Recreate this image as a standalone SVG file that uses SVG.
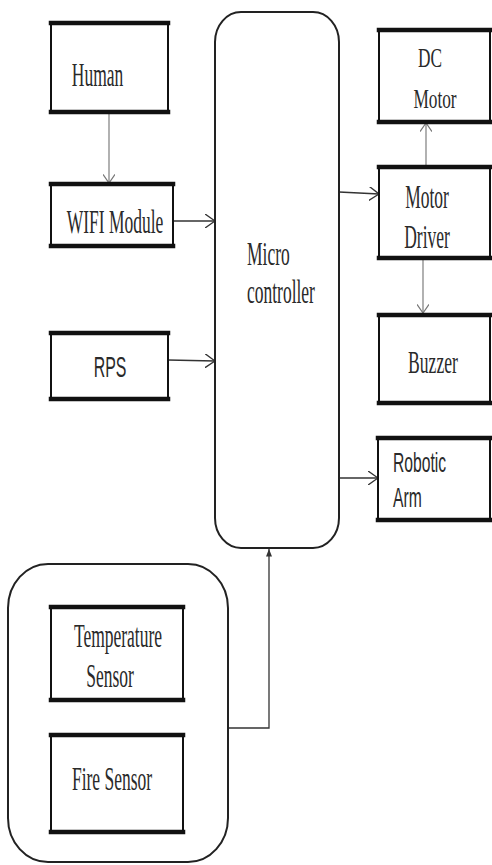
<svg xmlns="http://www.w3.org/2000/svg" width="492" height="865" viewBox="0 0 492 865">
<style>
  .box{fill:#fff;stroke:#111;stroke-width:2}
  .edge{stroke:#111;stroke-width:4.5;stroke-linecap:square}
  .rbox{fill:#fff;stroke:#222;stroke-width:2}
  .t{font-family:"Liberation Serif","Times New Roman",serif;font-size:33px;fill:#2a2a2a}
  .s{font-family:"Liberation Sans",Arial,sans-serif;font-size:30px;fill:#2a2a2a}
  .c{fill:none;stroke:#333;stroke-width:1.3}
  .g{fill:none;stroke:#888;stroke-width:1.3}
</style>
<defs>
  <marker id="arr" viewBox="0 0 10 14" refX="10" refY="7" markerWidth="10" markerHeight="14" markerUnits="userSpaceOnUse" orient="auto">
    <path d="M0,0 L10,7 L0,14" fill="none" stroke="#333" stroke-width="1.4"/>
  </marker>
  <marker id="arrg" viewBox="0 0 10 14" refX="10" refY="7" markerWidth="9" markerHeight="12" markerUnits="userSpaceOnUse" orient="auto">
    <path d="M0,0 L10,7 L0,14" fill="none" stroke="#777" stroke-width="1.4"/>
  </marker>
  <marker id="tri" viewBox="0 0 10 8" refX="10" refY="4" markerWidth="8" markerHeight="6" markerUnits="userSpaceOnUse" orient="auto">
    <path d="M0,0 L10,4 L0,8 Z" fill="#333"/>
  </marker>
</defs>

<g id="connectors">
  <line class="g" x1="109" y1="113" x2="109" y2="183" marker-end="url(#arrg)"/>
  <line class="c" x1="173" y1="221" x2="215" y2="221" marker-end="url(#arr)"/>
  <line class="c" x1="168" y1="360" x2="215" y2="361" marker-end="url(#arr)"/>
  <line class="c" x1="339" y1="192" x2="379" y2="194" marker-end="url(#arr)"/>
  <line class="g" x1="426" y1="166" x2="426" y2="123" marker-end="url(#arrg)"/>
  <line class="g" x1="423" y1="259" x2="423" y2="313" marker-end="url(#arrg)"/>
  <line class="c" x1="339" y1="478" x2="378" y2="478" marker-end="url(#arr)"/>
  <path class="c" d="M228,728 H269 V549" marker-end="url(#tri)"/>
</g>

<g id="microcontroller">
  <rect class="rbox" x="215" y="12" width="124" height="536" rx="26" ry="30"/>
  <text class="t" transform="translate(247,265) scale(0.53,1)">Micro</text>
  <text class="t" transform="translate(247,303) scale(0.53,1)">controller</text>
</g>

<g id="human">
  <rect class="box" x="51" y="23" width="117" height="89"/>
  <line class="edge" x1="51" y1="23" x2="168" y2="23"/>
  <line class="edge" x1="51" y1="112" x2="168" y2="112"/>
  <text class="t" text-anchor="middle" transform="translate(97.5,86) scale(0.53,1)">Human</text>
</g>

<g id="wifi">
  <rect class="box" x="51" y="184" width="122" height="62"/>
  <line class="edge" x1="51" y1="184" x2="173" y2="184"/>
  <line class="edge" x1="51" y1="246" x2="173" y2="246"/>
  <text class="t" text-anchor="middle" transform="translate(115,233) scale(0.53,1)">WIFI Module</text>
</g>

<g id="rps">
  <rect class="box" x="51" y="333" width="117" height="66"/>
  <line class="edge" x1="51" y1="333" x2="168" y2="333"/>
  <line class="edge" x1="51" y1="399" x2="168" y2="399"/>
  <text class="s" text-anchor="middle" transform="translate(110,377) scale(0.53,1)">RPS</text>
</g>

<g id="dc-motor">
  <rect class="box" x="379" y="30" width="111" height="92"/>
  <line class="edge" x1="379" y1="30" x2="490" y2="30"/>
  <line class="edge" x1="379" y1="122" x2="490" y2="122"/>
  <text class="t" text-anchor="middle" style="font-size:27px" transform="translate(430,67) scale(0.64,1)">DC</text>
  <text class="t" text-anchor="middle" style="font-size:27px" transform="translate(435,108) scale(0.64,1)">Motor</text>
</g>

<g id="motor-driver">
  <rect class="box" x="379" y="167" width="111" height="91"/>
  <line class="edge" x1="379" y1="167" x2="490" y2="167"/>
  <line class="edge" x1="379" y1="258" x2="490" y2="258"/>
  <text class="t" text-anchor="middle" transform="translate(427,208) scale(0.53,1)">Motor</text>
  <text class="t" text-anchor="middle" transform="translate(427,248) scale(0.53,1)">Driver</text>
</g>

<g id="buzzer">
  <rect class="box" x="379" y="315" width="111" height="88"/>
  <line class="edge" x1="379" y1="315" x2="490" y2="315"/>
  <line class="edge" x1="379" y1="403" x2="490" y2="403"/>
  <text class="t" text-anchor="middle" style="font-size:32px" transform="translate(433,373) scale(0.55,1)">Buzzer</text>
</g>

<g id="robotic-arm">
  <rect class="box" x="378" y="438" width="112" height="82"/>
  <line class="edge" x1="378" y1="438" x2="490" y2="438"/>
  <line class="edge" x1="378" y1="520" x2="490" y2="520"/>
  <text class="s" style="font-size:28px" transform="translate(393,472) scale(0.56,1)">Robotic</text>
  <text class="s" style="font-size:28px" transform="translate(393,507) scale(0.56,1)">Arm</text>
</g>

<g id="sensor-group">
  <rect class="rbox" x="8" y="564" width="220" height="298" rx="40" ry="44"/>
</g>

<g id="temperature-sensor">
  <rect class="box" x="51" y="607" width="132" height="93"/>
  <line class="edge" x1="51" y1="607" x2="183" y2="607"/>
  <line class="edge" x1="51" y1="700" x2="183" y2="700"/>
  <text class="t" text-anchor="middle" transform="translate(118,647) scale(0.53,1)">Temperature</text>
  <text class="t" text-anchor="middle" transform="translate(110,687) scale(0.53,1)">Sensor</text>
</g>

<g id="fire-sensor">
  <rect class="box" x="51" y="735" width="132" height="97"/>
  <line class="edge" x1="51" y1="735" x2="183" y2="735"/>
  <line class="edge" x1="51" y1="832" x2="183" y2="832"/>
  <text class="t" text-anchor="middle" transform="translate(112,790) scale(0.53,1)">Fire Sensor</text>
</g>
</svg>
